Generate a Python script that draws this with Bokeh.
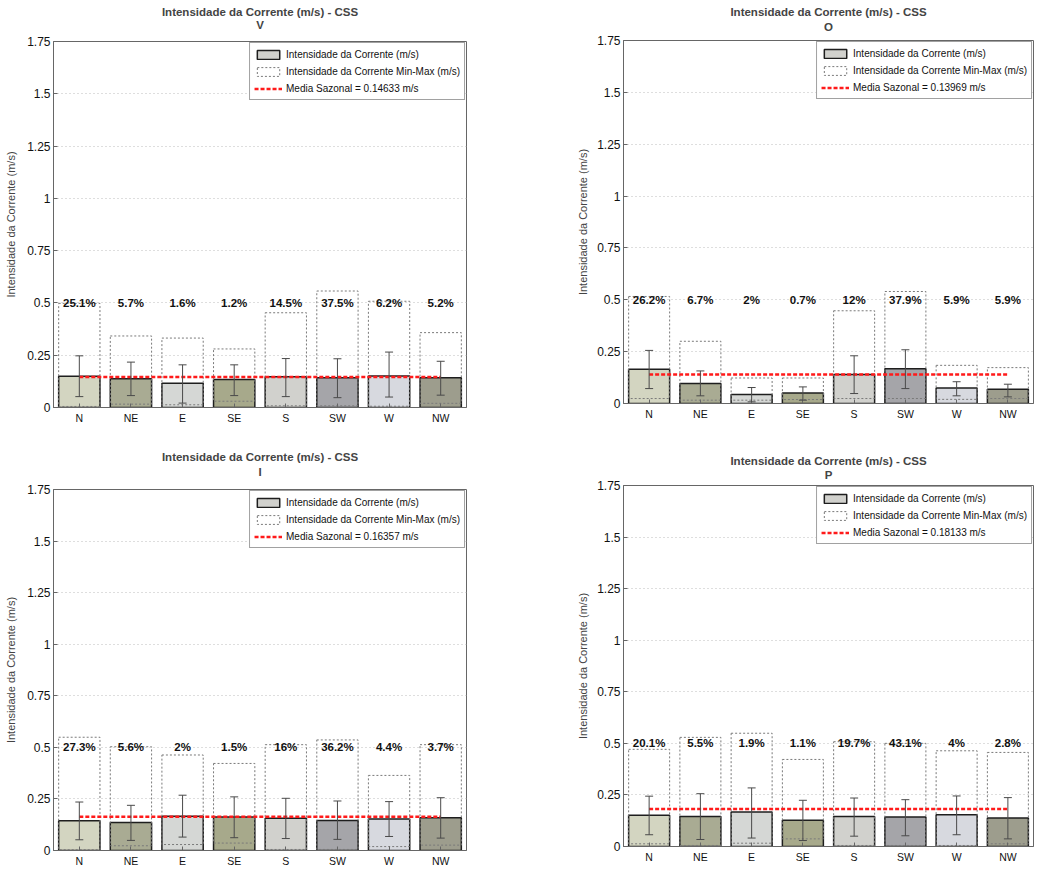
from bokeh.plotting import figure
from bokeh.models import (ColumnDataSource, FactorRange, Range1d, FixedTicker, Legend, LegendItem,
                          Whisker, TeeHead, Title, CustomJSTickFormatter)
from bokeh.layouts import row, column
from bokeh.embed import file_html
from bokeh.resources import INLINE
from bokeh.core.properties import value

# ---------------- data ----------------
dirs = ["N", "NE", "E", "SE", "S", "SW", "W", "NW"]
y_ticks = [0, 0.25, 0.5, 0.75, 1, 1.25, 1.5, 1.75]

# V
mean_v = [0.150, 0.137, 0.116, 0.134, 0.147, 0.142, 0.151, 0.142]
max_v = [0.498, 0.342, 0.332, 0.280, 0.453, 0.557, 0.508, 0.358]
min_v = [0.005, 0.016, 0.013, 0.030, 0.008, 0.008, 0.006, 0.020]
lo_v = [0.052, 0.057, 0.021, 0.057, 0.052, 0.047, 0.050, 0.059]
hi_v = [0.247, 0.217, 0.204, 0.204, 0.234, 0.233, 0.265, 0.221]
pct_v = ["25.1%", "5.7%", "1.6%", "1.2%", "14.5%", "37.5%", "6.2%", "5.2%"]
media_v = 0.14633

# O
mean_o = [0.165, 0.096, 0.043, 0.051, 0.140, 0.168, 0.075, 0.069]
max_o = [0.516, 0.300, 0.123, 0.123, 0.447, 0.540, 0.184, 0.173]
min_o = [0.024, 0.016, 0.016, 0.019, 0.024, 0.024, 0.020, 0.024]
lo_o = [0.072, 0.037, 0.008, 0.016, 0.048, 0.072, 0.037, 0.032]
hi_o = [0.256, 0.157, 0.077, 0.080, 0.230, 0.259, 0.105, 0.093]
pct_o = ["26.2%", "6.7%", "2%", "0.7%", "12%", "37.9%", "5.9%", "5.9%"]
media_o = 0.13969

# I
mean_i = [0.144, 0.136, 0.166, 0.162, 0.156, 0.146, 0.153, 0.159]
max_i = [0.549, 0.503, 0.463, 0.422, 0.513, 0.536, 0.364, 0.513]
min_i = [0.004, 0.023, 0.029, 0.036, 0.005, 0.005, 0.019, 0.026]
lo_i = [0.052, 0.049, 0.065, 0.062, 0.058, 0.054, 0.068, 0.060]
hi_i = [0.235, 0.219, 0.268, 0.260, 0.253, 0.240, 0.237, 0.256]
pct_i = ["27.3%", "5.6%", "2%", "1.5%", "16%", "36.2%", "4.4%", "3.7%"]
media_i = 0.16357

# P
mean_p = [0.151, 0.146, 0.167, 0.127, 0.146, 0.143, 0.154, 0.138]
max_p = [0.471, 0.529, 0.549, 0.422, 0.508, 0.500, 0.464, 0.456]
min_p = [0.013, 0.005, 0.016, 0.037, 0.005, 0.005, 0.005, 0.013]
lo_p = [0.057, 0.034, 0.041, 0.029, 0.050, 0.052, 0.057, 0.037]
hi_p = [0.244, 0.256, 0.284, 0.224, 0.235, 0.227, 0.245, 0.237]
pct_p = ["20.1%", "5.5%", "1.9%", "1.1%", "19.7%", "43.1%", "4%", "2.8%"]
media_p = 0.18133

bar_colors = ["#d3d5c1", "#a9ab93", "#d5d7d5", "#a7a98b", "#d1d1cd", "#a5a5a9", "#d7d9df", "#9d9d8d"]

main_title = "Intensidade da Corrente (m/s) - CSS"
ylabel = "Intensidade da Corrente (m/s)"
lbl_bar = "Intensidade da Corrente (m/s)"
lbl_box = "Intensidade da Corrente Min-Max (m/s)"

FONT = "Liberation Sans"


def make_panel(sub, mean, mx, mn, lo, hi, pct, media, width, height, bl, br, bt, bb,
               sub_standoff, main_standoff, ylab_standoff):
    src = ColumnDataSource(dict(x=dirs, mean=mean, mx=mx, mn=mn, lo=lo, hi=hi, pct=pct, color=bar_colors))
    p = figure(x_range=FactorRange(factors=dirs, range_padding=0), y_range=Range1d(0, 1.75),
               width=width, height=height, min_border_left=bl, min_border_right=br,
               min_border_top=bt, min_border_bottom=bb, output_backend="svg",
               toolbar_location=None, title=None)
    p.add_layout(Title(text=sub, align="center", text_font=FONT, text_font_size="11.5px",
                       text_font_style="bold", standoff=sub_standoff), "above")
    p.add_layout(Title(text=main_title, align="center", text_font=FONT, text_font_size="11.5px",
                       text_font_style="bold", standoff=main_standoff), "above")

    bars = p.vbar(x="x", top="mean", bottom=0, width=0.8, source=src, fill_color="color",
                  line_color="#1e1e1e", line_width=1.5)
    boxes = p.vbar(x="x", top="mx", bottom="mn", width=0.8, source=src, fill_color=None,
                   line_color="#7a7a7a", line_dash="2 2", line_width=1)
    w = Whisker(source=src, base="x", upper="hi", lower="lo", line_color="#4a4a4a", line_width=1,
                upper_head=TeeHead(size=8, line_color="#4a4a4a", line_width=1),
                lower_head=TeeHead(size=8, line_color="#4a4a4a", line_width=1), level="annotation")
    p.add_layout(w)
    mline = p.line(x=[dirs[0], dirs[-1]], y=[media, media], line_color="#ff1a1a", line_width=2.5,
                   line_dash="4 2")
    p.text(x="x", y=0.5, text="pct", source=src, text_align="center", text_baseline="middle",
           text_font=value(FONT), text_font_size="11.5px", text_font_style="bold", text_color="#111111")

    legend = Legend(items=[LegendItem(label=lbl_bar, renderers=[bars], index=4),
                           LegendItem(label=lbl_box, renderers=[boxes]),
                           LegendItem(label="Media Sazonal = %.5f m/s" % media, renderers=[mline])],
                    location="top_right", margin=1, padding=4, spacing=3, label_height=14,
                    glyph_width=28, glyph_height=11, label_standoff=4,
                    label_text_font=FONT, label_text_font_size="10px", label_text_color="#111111",
                    border_line_color="#444444", border_line_width=1, background_fill_color="white",
                    background_fill_alpha=1)
    p.add_layout(legend)

    p.yaxis.ticker = FixedTicker(ticks=y_ticks)
    p.yaxis.formatter = CustomJSTickFormatter(code="return tick.toString()")
    p.yaxis.axis_label = ylabel
    p.yaxis.axis_label_text_font = FONT
    p.yaxis.axis_label_text_font_size = "11px"
    p.yaxis.axis_label_text_font_style = "normal"
    p.yaxis.axis_label_standoff = ylab_standoff
    p.yaxis.minor_tick_line_color = None
    for ax in (p.xaxis, p.yaxis):
        ax.major_label_text_font = FONT
        ax.major_label_text_color = "#111111"
        ax.major_tick_in = 4
        ax.major_tick_out = 0
        ax.major_tick_line_color = "#666666"
        ax.axis_line_color = "#666666"
    p.yaxis.major_label_text_font_size = "12px"
    p.yaxis.major_label_standoff = 3
    p.xaxis.major_label_text_font_size = "10.5px"
    p.xaxis.major_label_standoff = 4

    p.xgrid.grid_line_color = None
    p.ygrid.grid_line_color = "#bdbdbd"
    p.ygrid.grid_line_dash = "1 3"
    p.outline_line_color = "#666666"
    p.outline_line_width = 1
    p.background_fill_color = "white"
    p.border_fill_color = "white"
    return p


pV = make_panel("V", mean_v, max_v, min_v, lo_v, hi_v, pct_v, media_v, 553, 448, 53, 87, 41, 41, 22, -25, 7)
pI = make_panel("I", mean_i, max_i, min_i, lo_i, hi_i, pct_i, media_i, 553, 424, 53, 86, 41, 22, 24, -23, 7)
pO = make_panel("O", mean_o, max_o, min_o, lo_o, hi_o, pct_o, media_o, 485, 448, 70, 5, 40, 45, 16, -15, 5)
pP = make_panel("P", mean_p, max_p, min_p, lo_p, hi_p, pct_p, media_p, 485, 424, 69, 4, 37, 26, 10, -11, 5)

layout = row(column(pV, pI), column(pO, pP))

open("out.html", "w").write(file_html(layout, INLINE))
